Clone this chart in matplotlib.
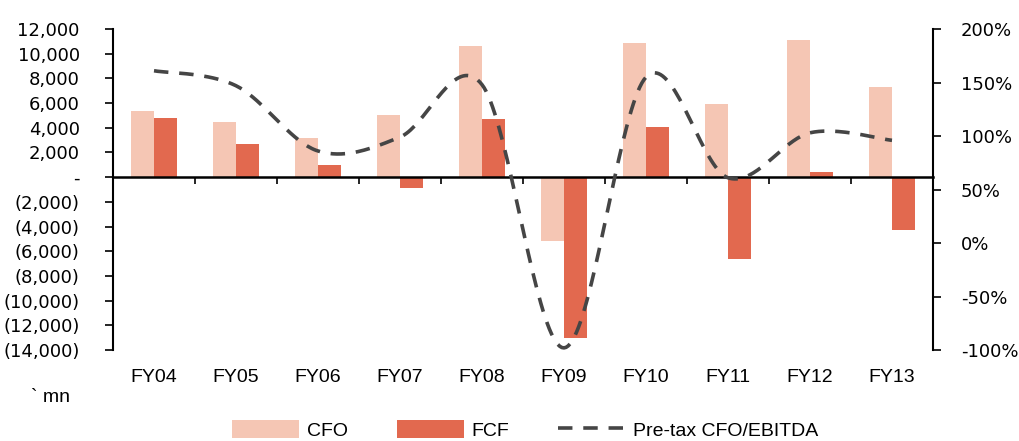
import numpy as np
import matplotlib.pyplot as plt
from matplotlib.lines import Line2D
from matplotlib.patches import Patch
from matplotlib.ticker import FuncFormatter, MultipleLocator

years = ["FY04", "FY05", "FY06", "FY07", "FY08", "FY09", "FY10", "FY11", "FY12", "FY13"]
cfo = [5400, 4500, 3200, 5000, 10600, -5200, 10900, 5900, 11100, 7300]
fcf = [4800, 2700, 1000, -900, 4700, -13000, 4100, -6600, 450, -4300]
cfo_ebitda = [161, 147, 86, 99, 148, -98, 155, 61, 103, 96]

CFO_COLOR = "#F5C6B4"
FCF_COLOR = "#E2694F"
LINE_COLOR = "#454545"

plt.rcParams["font.family"] = ["DejaVu Sans"]
narrow = ["Liberation Sans", "DejaVu Sans"]


def smooth(xs, ys, steps=40):
    # Catmull-Rom style Bezier smoothing through every point
    xs = np.asarray(xs, float)
    ys = np.asarray(ys, float)
    px = np.concatenate([[xs[0]], xs, [xs[-1]]])
    py = np.concatenate([[ys[0]], ys, [ys[-1]]])
    out_x, out_y = [], []
    t = np.linspace(0, 1, steps)
    for i in range(1, len(px) - 2):
        x0, x1, x2, x3 = px[i - 1:i + 3]
        y0, y1, y2, y3 = py[i - 1:i + 3]
        cx1, cy1 = x1 + (x2 - x0) / 6, y1 + (y2 - y0) / 6
        cx2, cy2 = x2 - (x3 - x1) / 6, y2 - (y3 - y1) / 6
        a, b, c, d = (1 - t) ** 3, 3 * (1 - t) ** 2 * t, 3 * (1 - t) * t ** 2, t ** 3
        out_x.append(a * x1 + b * cx1 + c * cx2 + d * x2)
        out_y.append(a * y1 + b * cy1 + c * cy2 + d * y2)
    return np.concatenate(out_x), np.concatenate(out_y)


def money(v, pos):
    if abs(v) < 1e-6:
        return "-"
    if v < 0:
        return f"({abs(v):,.0f})"
    return f"{v:,.0f}"


fig = plt.figure(figsize=(10.2, 4.41), dpi=100)
ax = fig.add_axes([0.1108, 0.2063, 0.8039, 0.7279])
x = np.arange(len(years))
w = 0.28
ax.bar(x - w / 2, cfo, w, color=CFO_COLOR, zorder=2)
ax.bar(x + w / 2, fcf, w, color=FCF_COLOR, zorder=2)

ax.set_xlim(-0.5, len(years) - 0.5)
ax.set_ylim(-14000, 12000)
ax.yaxis.set_major_locator(MultipleLocator(2000))
ax.yaxis.set_major_formatter(FuncFormatter(money))
ax.tick_params(axis="y", length=6, width=1.2, pad=18, labelsize=13)

ax.spines["top"].set_visible(False)
ax.spines["right"].set_visible(False)
ax.spines["bottom"].set_position(("data", 0))
ax.spines["bottom"].set_linewidth(1.8)
ax.spines["left"].set_linewidth(1.5)
ax.set_xticks(np.arange(len(years) + 1) - 0.5)
ax.set_xticklabels([])
ax.tick_params(axis="x", length=5, width=1.2, direction="out")

for i, yr in enumerate(years):
    ax.text(i, -0.087, yr, transform=ax.get_xaxis_transform(),
            ha="center", va="center", fontsize=14, family=narrow)

ax2 = ax.twinx()
ax2.set_position(ax.get_position())
ax2.set_ylim(-100, 200)
ax2.yaxis.set_major_locator(MultipleLocator(50))
ax2.yaxis.set_major_formatter(FuncFormatter(lambda v, p: f"{v:.0f}%"))
ax2.tick_params(axis="y", length=6, width=1.2, pad=14, labelsize=13)
for side in ("top", "bottom", "left"):
    ax2.spines[side].set_visible(False)
ax2.spines["right"].set_linewidth(1.5)
sx, sy = smooth(x, cfo_ebitda)
ax2.plot(sx, sy, color=LINE_COLOR, lw=2.6, dashes=(4, 3), zorder=3)

fig.text(0.03, 0.098, "` mn", fontsize=14, family=narrow, ha="left", va="center")

handles = [
    Patch(facecolor=CFO_COLOR, label="CFO"),
    Patch(facecolor=FCF_COLOR, label="FCF"),
    Line2D([0], [0], color=LINE_COLOR, lw=2.6, dashes=(4, 3), label="Pre-tax CFO/EBITDA"),
]
fig.legend(handles=handles, loc="center", bbox_to_anchor=(0.515, 0.025), ncol=3,
           frameon=False, prop={"family": narrow, "size": 14},
           handlelength=3.45, handleheight=1.0, columnspacing=2.5, handletextpad=0.4,
           borderpad=0, borderaxespad=0)

fig.savefig("out.png", dpi=100)
